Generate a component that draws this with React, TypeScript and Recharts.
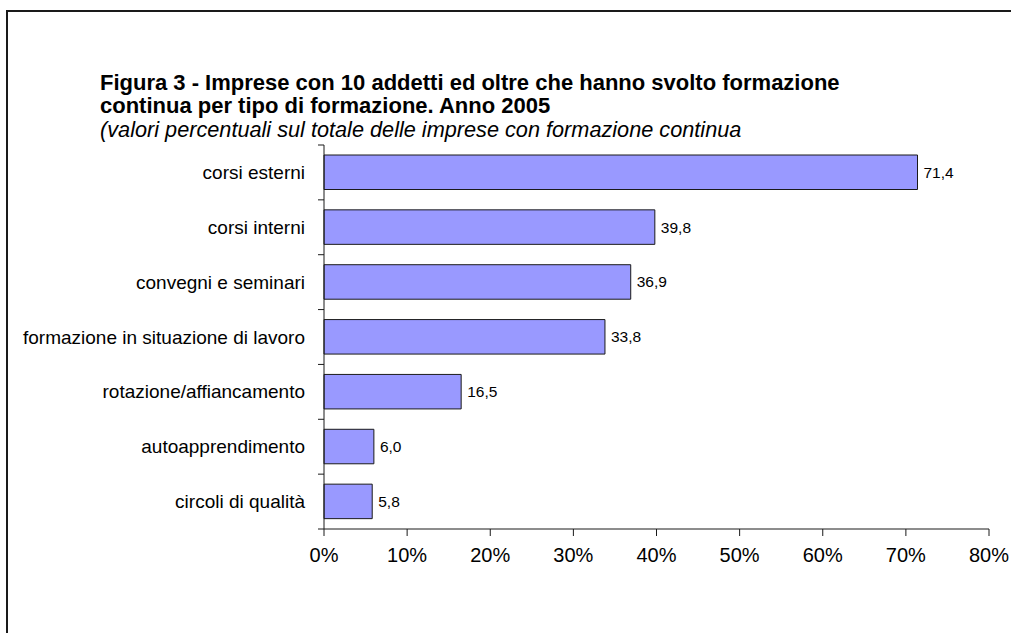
import { BarChart, Bar, XAxis, YAxis, LabelList } from 'recharts';

const categories = [
  'corsi esterni',
  'corsi interni',
  'convegni e seminari ',
  'formazione in situazione di lavoro',
  'rotazione/affiancamento',
  'autoapprendimento ',
  'circoli di qualità',
];
const values = [71.4, 39.8, 36.9, 33.8, 16.5, 6.0, 5.8];
const xTicks = [0, 10, 20, 30, 40, 50, 60, 70, 80];

const titleLines = [
  'Figura 3 - Imprese con 10 addetti ed oltre che hanno svolto formazione',
  'continua per tipo di formazione. Anno 2005',
];
const subtitle = '(valori percentuali sul totale delle imprese con formazione continua';

const data = categories.map((name, i) => ({ name, value: values[i] }));

const W = 1011;
const H = 633;
const TOP = 145;
const BOTTOM = 104;
const X_AXIS_H = 40;
const Y_AXIS_W = 324;
const PLOT_H = H - TOP - BOTTOM;
const BAND = PLOT_H / categories.length;
const FONT = '"Liberation Sans", Arial, sans-serif';
const INK = '#1a1a1a';

// category labels plus the short ticks that sit between the bands
const CategoryTick = (props: any) => {
  const { x, y, payload, index } = props;
  const ax = x + 19;
  return (
    <g>
      <line x1={ax - 6} x2={ax} y1={y - BAND / 2} y2={y - BAND / 2} stroke={INK} />
      {index === categories.length - 1 && (
        <line x1={ax - 6} x2={ax} y1={y + BAND / 2} y2={y + BAND / 2} stroke={INK} />
      )}
      <text x={x} y={y} dy={6.5} textAnchor="end" fontSize={19} fill="#000" fontFamily={FONT}>
        {payload.value}
      </text>
    </g>
  );
};

export default function App() {
  return (
    <div
      style={{
        position: 'fixed',
        left: 0,
        top: 0,
        width: W,
        height: H,
        overflow: 'hidden',
        background: '#fff',
        fontFamily: FONT,
      }}
    >
      <div
        style={{
          position: 'absolute',
          left: 6,
          top: 10,
          width: 1100,
          height: 700,
          borderLeft: `2px solid ${INK}`,
          borderTop: `2px solid ${INK}`,
        }}
      />
      <div style={{ position: 'absolute', left: 100, top: 71, color: '#000' }}>
        {titleLines.map((t) => (
          <div key={t} style={{ fontSize: 22, fontWeight: 'bold', lineHeight: '23px', whiteSpace: 'nowrap' }}>
            {t}
          </div>
        ))}
        <div style={{ fontSize: 21.7, fontStyle: 'italic', lineHeight: '25px', whiteSpace: 'nowrap' }}>
          {subtitle}
        </div>
      </div>
      <div style={{ position: 'absolute', left: 0, top: 0 }}>
        <BarChart
          width={W}
          height={H}
          data={data}
          layout="vertical"
          margin={{ top: TOP, right: 22, bottom: BOTTOM - X_AXIS_H, left: 0 }}
        >
          <XAxis
            type="number"
            domain={[0, 80]}
            ticks={xTicks}
            interval={0}
            tickFormatter={(v: number) => `${v}%`}
            axisLine={{ stroke: INK }}
            tickLine={{ stroke: INK }}
            tickSize={7}
            tickMargin={12}
            height={X_AXIS_H}
            tick={{ fill: '#000', fontSize: 20, fontFamily: FONT }}
          />
          <YAxis
            type="category"
            dataKey="name"
            width={Y_AXIS_W}
            axisLine={{ stroke: INK }}
            tickLine={false}
            tickSize={0}
            tickMargin={19}
            interval={0}
            tick={<CategoryTick />}
          />
          <Bar
            dataKey="value"
            fill="#9999FF"
            stroke={INK}
            strokeWidth={1}
            barSize={34.5}
            isAnimationActive={false}
          >
            <LabelList
              dataKey="value"
              position="right"
              offset={6}
              formatter={(v: any) => Number(v).toFixed(1).replace('.', ',')}
              style={{ fill: '#000', fontSize: 15.5, fontFamily: FONT }}
            />
          </Bar>
        </BarChart>
      </div>
    </div>
  );
}
